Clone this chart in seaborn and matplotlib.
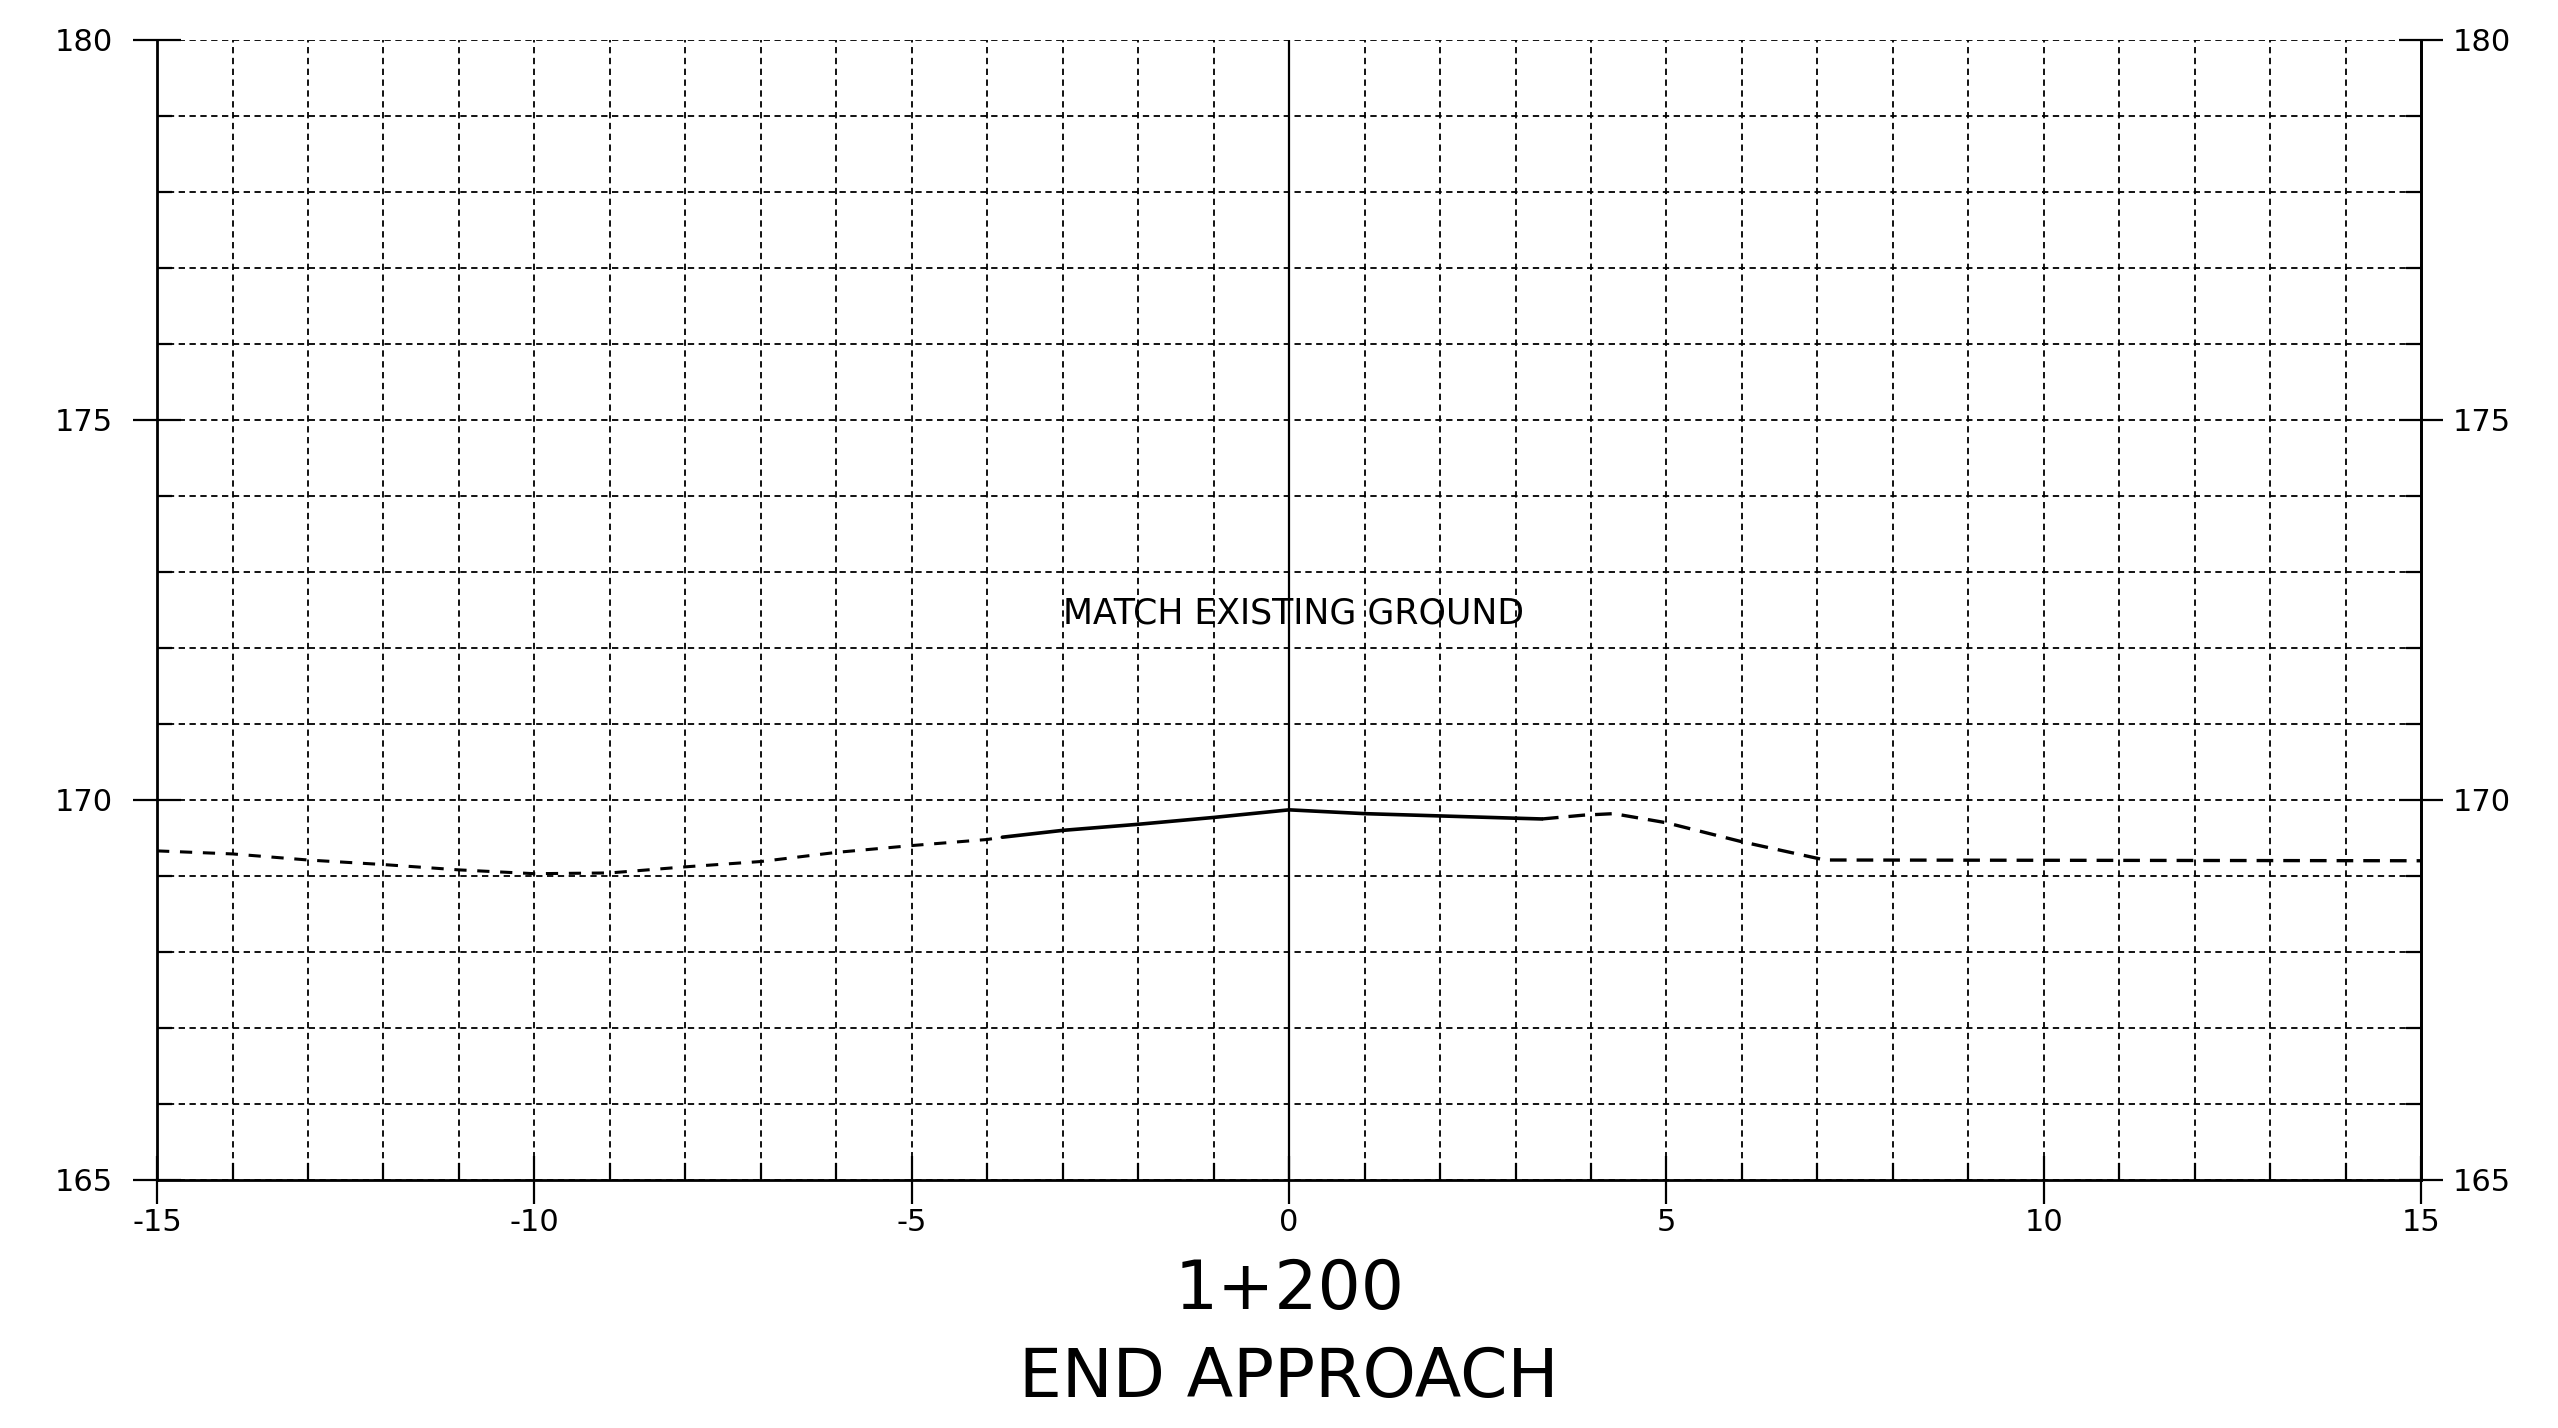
import matplotlib.pyplot as plt
import seaborn as sns
from matplotlib.transforms import blended_transform_factory

sns.set_style("white")
plt.rcParams['font.family'] = ['DejaVu Sans']
plt.rcParams['text.color'] = 'black'

# ground profile (offset m, elevation m)
left_x = [-15, -14, -13, -12, -11, -10, -9, -8, -7, -6, -5, -4, -3.8]
left_y = [169.33, 169.29, 169.21, 169.15, 169.08, 169.03, 169.04, 169.12, 169.19, 169.31, 169.40, 169.48, 169.51]

mid_x = [-3.8, -3, -2, -1, 0, 1, 2, 3, 3.35]
mid_y = [169.51, 169.60, 169.68, 169.77, 169.87, 169.82, 169.79, 169.76, 169.75]

right_x = [3.35, 3.9, 4.3, 5, 6, 7.1, 15]
right_y = [169.75, 169.80, 169.82, 169.70, 169.45, 169.21, 169.20]

x_ticks = [-15, -10, -5, 0, 5, 10, 15]
x_tick_labels = ['-15', '-10', '-5', '0', '5', '10', '15']
y_ticks = [165, 170, 175, 180]
y_tick_labels = ['165', '170', '175', '180']

note = 'MATCH EXISTING GROUND'
station = '1+200'
caption = 'END APPROACH'

fig, ax = plt.subplots(figsize=(25.58, 14.28), dpi=100)
fig.subplots_adjust(left=0.0614, right=0.9465, bottom=0.1737, top=0.972)

ax.set_xlim(-15, 15)
ax.set_ylim(165, 180)

# grid every metre
ax.set_xticks(x_ticks)
ax.set_xticklabels(x_tick_labels)
ax.set_xticks(range(-15, 16), minor=True)
ax.set_yticks(y_ticks)
ax.set_yticklabels(y_tick_labels)
ax.set_yticks(range(165, 181), minor=True)
ax.grid(which='both', color='black', linestyle=(0, (3.5, 2.5)), linewidth=1.3)
ax.set_axisbelow(True)

# centre line
ax.axvline(0, color='black', linewidth=1.6)

# ground line
sns.lineplot(x=left_x, y=left_y, ax=ax, color='black', linewidth=2.2,
             linestyle=(0, (4, 3.5)))
sns.lineplot(x=mid_x, y=mid_y, ax=ax, color='black', linewidth=2.6)
sns.lineplot(x=right_x, y=right_y, ax=ax, color='black', linewidth=2.4,
             linestyle=(0, (5, 3)))

ax.text(-3.0, 172.45, note, fontsize=25, va='center', ha='left', color='black')

for s in ['left', 'right', 'bottom']:
    ax.spines[s].set_visible(True)
    ax.spines[s].set_color('black')
    ax.spines[s].set_linewidth(2.0)
ax.spines['top'].set_visible(False)

ax.tick_params(axis='x', which='major', direction='inout', length=34, width=1.6,
               pad=3, labelsize=22, bottom=True, top=False, colors='black')
ax.tick_params(axis='x', which='minor', direction='in', length=12, width=1.6,
               bottom=True, top=False, colors='black')
ax.tick_params(axis='y', which='major', direction='inout', length=34, width=1.6,
               pad=15, labelsize=22, left=True, right=False, colors='black')
ax.tick_params(axis='y', which='minor', direction='in', length=11, width=1.6,
               left=True, right=True, colors='black')

secax = ax.secondary_yaxis('right')
secax.set_yticks(y_ticks)
secax.set_yticklabels(y_tick_labels)
secax.tick_params(axis='y', which='major', direction='inout', length=32, width=1.6,
                  pad=7, labelsize=22, colors='black')
secax.tick_params(axis='y', which='minor', right=False)
secax.spines['right'].set_linewidth(2.0)
secax.spines['right'].set_color('black')

# section caption under the plot
trans = blended_transform_factory(ax.transData, fig.transFigure)
ax.text(0, 1 - 1290 / 1428, station, transform=trans, fontsize=49,
        ha='center', va='center', color='black')
ax.text(0, 1 - 1378 / 1428, caption, transform=trans, fontsize=49,
        ha='center', va='center', color='black')

ax.set_xlabel('')
ax.set_ylabel('')

plt.savefig('out.png', dpi=100)
